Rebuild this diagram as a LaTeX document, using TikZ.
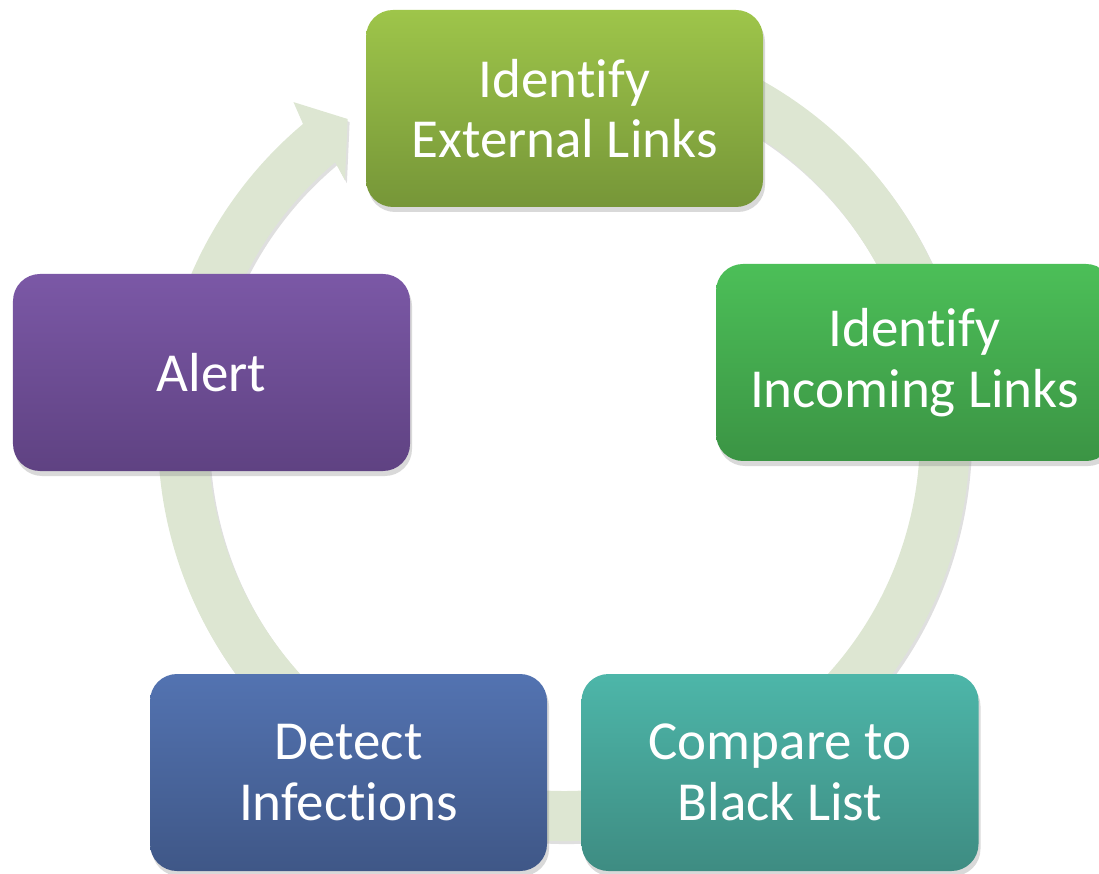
\documentclass[tikz,border=0pt]{standalone}
\usepackage{fontspec}
\setmainfont{Carlito}[Ligatures=CommonOff]
\usepackage{tikz}
\usetikzlibrary{shadows}
\definecolor{ringcol}{RGB}{221,230,210}
\definecolor{extTop}{RGB}{158,197,74}
\definecolor{extBot}{RGB}{118,150,56}
\definecolor{incTop}{RGB}{76,191,88}
\definecolor{incBot}{RGB}{59,148,68}
\definecolor{cmpTop}{RGB}{77,182,169}
\definecolor{cmpBot}{RGB}{62,140,130}
\definecolor{detTop}{RGB}{83,115,177}
\definecolor{detBot}{RGB}{63,87,135}
\definecolor{alrTop}{RGB}{123,88,166}
\definecolor{alrBot}{RGB}{95,66,130}
\tikzstyle{stage}=[rectangle,rounded corners=0.54cm,minimum width=7.94cm,minimum height=3.94cm,inner sep=0mm,text=white,align=center,font=\fontsize{31.3}{34.5}\selectfont,drop shadow={shadow xshift=0.04cm,shadow yshift=-0.1cm,opacity=0.3}]
\tikzstyle{ring}=[fill=ringcol,drop shadow={shadow xshift=0.04cm,shadow yshift=-0.06cm,opacity=0.25}]

\begin{document}
\begin{tikzpicture}
    \useasboundingbox (0,0) rectangle (21.98,17.46);
    \coordinate (c) at (11.28,8.76);
    % circular arrow behind the stages
    \path[ring] ([shift={(c)}]80:8.12cm) arc[start angle=80,end angle=-230,radius=8.12cm]
        -- ([shift={(c)}]129.1:8.58cm) -- ([shift={(c)}]124.4:7.66cm)
        -- ([shift={(c)}]130.7:6.72cm) -- ([shift={(c)}]130:7.12cm)
        arc[start angle=-230,end angle=80,radius=7.12cm] -- cycle;
    \node[stage,top color=extTop,bottom color=extBot] at (11.29,15.29) (ext) {Identify\\External Links};
    \node[stage,top color=incTop,bottom color=incBot] at (18.29,10.21) (inc) {Identify\\Incoming Links};
    \node[stage,top color=cmpTop,bottom color=cmpBot] at (15.60,2.01) (cmp) {Compare to\\Black List};
    \node[stage,top color=detTop,bottom color=detBot] at (6.97,2.01) (det) {Detect\\Infections};
    \node[stage,top color=alrTop,bottom color=alrBot] at (4.23,10.01) (alr) {Alert};
\end{tikzpicture}
\end{document}
